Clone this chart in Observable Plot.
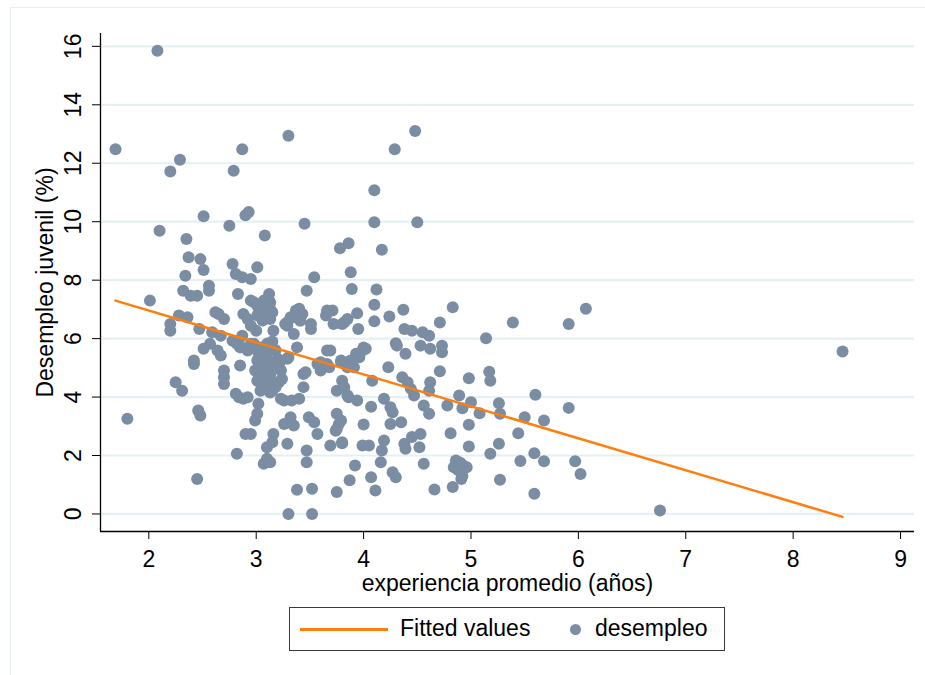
<!DOCTYPE html>
<html>
<head>
<meta charset="utf-8">
<script src="https://cdn.jsdelivr.net/npm/d3@7"></script>
<script src="https://cdn.jsdelivr.net/npm/@observablehq/plot@0.6"></script>
<style>
  html, body { margin: 0; padding: 0; background: #fff; overflow: hidden; }
  #wrap { position: relative; width: 925px; height: 675px; overflow: hidden; font-family: "Liberation Sans", Arial, sans-serif; }
  #frame { position: absolute; left: 10px; top: 7px; width: 930px; height: 690px; border-left: 1.5px solid #e6eef0; border-top: 1.5px solid #e6eef0; box-sizing: border-box; }
  #chart { position: absolute; left: 0; top: 0; }
  #legend { position: absolute; left: 289px; top: 607px; width: 436px; height: 44px; border: 1px solid #3a3a3a; box-sizing: border-box; font-size: 23px; color: #000; }
  #legend .ln { position: absolute; left: 10px; top: 20px; width: 88px; height: 2.5px; background: #ff7f0e; }
  #legend .t1 { position: absolute; left: 110px; top: 7px; }
  #legend .dot { position: absolute; left: 280px; top: 16px; width: 11px; height: 11px; border-radius: 50%; background: #7a8da3; }
  #legend .t2 { position: absolute; left: 305px; top: 7px; }
</style>
</head>
<body>
<div id="wrap">
  <div id="frame"></div>
  <div id="chart"></div>
  <div id="legend"><div class="ln"></div><span class="t1">Fitted values</span><div class="dot"></div><span class="t2">desempleo</span></div>
</div>
<script>
const xTicks = [2, 3, 4, 5, 6, 7, 8, 9];
const yTicks = [0, 2, 4, 6, 8, 10, 12, 14, 16];
const xDomain = [1.55, 9.13];
const yDomain = [-0.6, 16.44];
const xTitle = "experiencia promedio (años)";
const yTitle = "Desempleo juvenil (%)";

// Fitted values line (endpoints)
const fitX = [1.69, 8.46];
const fitY = [7.30, -0.10];

// Scatter: experiencia promedio (x) and desempleo juvenil (y)
const expX = [
1.69,2.08,1.80,2.10,2.20,2.29,2.87,2.79,3.30,4.48,4.29,4.10,4.10,4.50,3.45,2.51,2.90,2.93,2.75,3.08,
3.78,3.86,4.17,2.35,2.37,2.48,2.51,2.34,2.78,2.81,2.87,2.95,3.01,2.56,2.56,2.32,2.39,2.45,2.83,2.95,
3.12,3.04,3.01,3.10,3.13,3.47,3.54,3.88,3.89,4.12,3.71,3.94,4.10,4.10,4.24,4.37,4.83,3.72,3.82,3.95,
4.71,5.39,4.38,4.45,4.55,4.61,5.14,4.30,4.31,4.39,4.53,4.62,4.73,4.73,3.69,4.00,3.93,3.96,3.88,3.79,
3.86,3.91,4.23,4.71,5.17,5.18,4.98,4.36,4.41,4.44,4.47,4.62,4.61,3.80,3.75,3.86,3.94,4.08,4.19,4.25,
4.27,4.07,4.56,4.61,4.89,5.00,4.92,5.08,5.26,5.27,5.60,5.50,5.68,5.91,4.98,5.44,4.81,5.26,4.98,5.18,
5.46,5.59,5.68,5.97,6.02,4.86,4.90,4.84,4.88,4.93,4.92,4.83,5.27,5.59,5.91,6.07,8.46,6.76,3.75,3.77,
3.74,4.00,4.25,4.35,3.69,3.80,3.99,4.05,4.19,4.17,4.16,4.38,4.39,4.45,4.53,4.52,4.56,4.96,4.91,3.92,
3.87,4.07,4.11,4.27,4.30,3.75,4.66,2.01,2.20,2.20,2.28,2.36,2.47,2.25,2.31,2.42,2.42,2.51,2.57,2.46,
2.48,2.45,2.65,2.70,2.62,2.88,2.92,2.59,2.67,2.78,2.87,2.84,2.67,2.64,2.85,2.70,2.70,2.70,2.95,3.02,
3.07,3.10,3.04,3.12,3.06,3.13,3.09,3.15,3.21,3.18,3.13,3.01,3.06,2.99,2.85,2.92,2.95,3.15,3.18,3.20,
3.16,3.22,3.12,3.23,3.29,3.23,3.24,3.44,3.44,3.66,3.68,3.60,2.81,2.84,2.88,2.92,3.02,3.01,2.99,2.95,
2.90,3.26,3.33,3.16,3.15,3.10,3.32,3.26,3.35,3.49,3.54,3.57,3.29,3.47,3.47,3.10,3.13,3.07,2.82,3.38,
3.52,3.30,3.52,3.40,3.43,3.35,3.29,3.29,3.51,3.41,3.16,3.57,3.60,3.65,3.01,3.12,3.13,4.78,3.79,3.85,
3.99,4.02,3.79,3.75,3.80,2.98,3.02,3.07,3.13,3.09,3.15,2.95,3.00,3.06,2.82,2.98,3.04,3.10,3.09,3.04,
3.01,3.10,3.15,3.07,3.30,3.46,3.32,3.27,3.37,3.51,3.35,3.38,3.66,3.80,3.85,3.58,3.66,3.82,3.85,3.23,
3.40,3.04
];
const desY = [
12.48,15.85,3.26,9.69,11.72,12.12,12.48,11.74,12.94,13.10,12.48,11.08,9.98,9.98,9.93,10.19,10.22,10.33,9.86,9.53,
9.09,9.26,9.04,9.41,8.78,8.72,8.35,8.15,8.55,8.21,8.10,8.04,8.44,7.81,7.64,7.64,7.47,7.47,7.53,7.30,
7.53,7.19,6.79,6.96,6.67,7.64,8.10,8.27,7.70,7.68,6.96,6.87,7.16,6.59,6.76,6.99,7.07,6.50,6.56,6.33,
6.55,6.55,6.33,6.27,6.22,6.10,6.01,5.84,5.76,5.48,5.76,5.65,5.76,5.53,5.59,5.70,5.48,5.36,5.25,5.25,
5.13,5.02,5.02,4.88,4.87,4.56,4.64,4.68,4.51,4.28,4.05,4.51,4.22,4.56,4.22,3.99,3.88,4.56,3.94,3.65,
3.48,3.67,3.71,3.43,4.05,3.82,3.62,3.45,3.79,3.43,4.08,3.31,3.20,3.63,3.05,2.76,2.76,2.40,2.31,2.06,
1.81,2.08,1.80,1.80,1.37,1.83,1.75,1.60,1.50,1.65,1.30,0.92,1.17,0.69,6.50,7.02,5.56,0.12,3.43,3.08,
2.85,3.06,3.08,3.14,2.34,2.42,2.34,2.34,2.51,2.17,1.77,2.40,2.23,2.63,2.74,2.28,1.72,1.60,1.20,1.66,
1.15,1.26,0.80,1.43,1.26,0.75,0.84,7.30,6.50,6.27,6.79,6.73,6.33,4.51,4.22,5.25,5.13,5.65,5.82,3.54,
3.37,1.20,6.84,6.67,6.90,6.84,6.67,6.22,6.10,5.93,6.10,5.82,5.42,5.59,5.08,4.91,4.68,4.45,5.70,5.53,
5.65,5.36,5.14,5.02,4.79,4.74,4.56,4.45,4.51,4.34,4.16,5.25,4.85,4.91,5.70,5.59,5.82,5.90,5.60,5.30,
5.10,4.95,5.75,5.25,5.31,4.91,4.62,4.79,4.34,5.59,5.02,5.19,4.11,3.99,3.94,3.99,3.77,3.43,3.20,2.74,
2.74,3.88,3.88,2.74,2.45,2.28,3.31,3.08,3.03,3.31,3.14,2.74,2.40,2.17,1.77,1.89,1.77,1.72,2.06,0.83,
0.86,0.00,0.00,7.02,6.84,6.73,6.56,6.44,6.33,6.61,6.27,5.13,4.91,6.79,7.13,7.30,7.02,3.71,5.19,5.02,
5.59,5.65,3.20,2.91,2.45,7.24,7.07,7.30,7.24,6.90,6.90,6.44,6.27,6.62,5.82,5.82,5.70,5.82,5.02,4.85,
4.56,4.56,4.22,4.34,5.36,4.85,6.73,6.50,6.96,6.50,6.16,5.70,6.96,6.50,6.67,5.13,5.13,4.34,4.05,3.94,
3.94,4.22
];

const pts = expX.map((x, i) => ({x, y: desY[i]}));
const fit = fitX.map((x, i) => ({x, y: fitY[i]}));

const font = "Liberation Sans, Arial, sans-serif";
const chart = Plot.plot({
  width: 925,
  height: 590,
  marginLeft: 100,
  marginRight: 11,
  marginTop: 33,
  marginBottom: 59,
  style: {fontFamily: font, fontSize: "23px", color: "#000", background: "transparent", overflow: "visible"},
  x: {domain: xDomain},
  y: {domain: yDomain},
  marks: [
    Plot.gridY(yTicks, {stroke: "#e6eff1", strokeOpacity: 1, strokeWidth: 2.2}),
    Plot.ruleY([yDomain[0]], {stroke: "#000", strokeWidth: 1.3}),
    Plot.ruleX([xDomain[0]], {stroke: "#000", strokeWidth: 1.3}),
    Plot.axisX(xTicks, {tickSize: 8, tickPadding: 11, fontSize: 23, label: null, stroke: "#000"}),
    Plot.axisY(yTicks, {tickSize: 8, tickPadding: 12, tickRotate: -90, fontSize: 23, label: null, stroke: "#000"}),
    Plot.text([xTitle], {frameAnchor: "bottom", lineAnchor: "middle", dy: 52, fontSize: 23, fill: "#000"}),
    Plot.text([yTitle], {frameAnchor: "left", textAnchor: "middle", lineAnchor: "middle", dx: -55, rotate: -90, fontSize: 23, fill: "#000"}),
    Plot.dot(pts, {x: "x", y: "y", r: 6, fill: "#7a8da3", stroke: "none"}),
    Plot.line(fit, {x: "x", y: "y", stroke: "#ff7f0e", strokeWidth: 2.5})
  ]
});
document.getElementById("chart").appendChild(chart);
</script>
</body>
</html>
